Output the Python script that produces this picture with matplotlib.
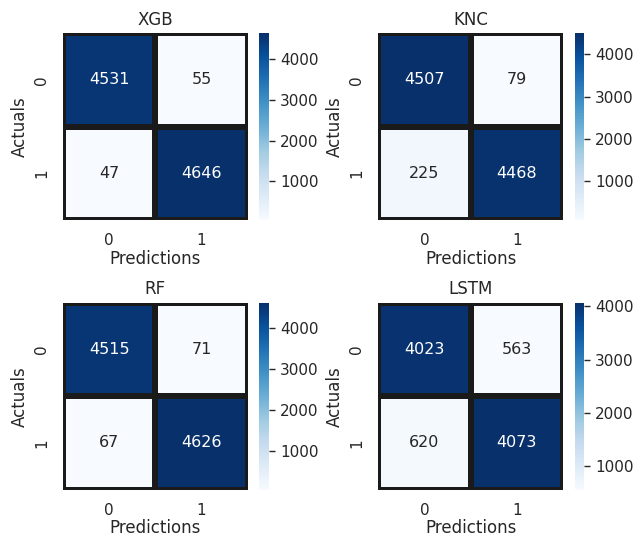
import matplotlib
matplotlib.use("Agg")
import matplotlib.pyplot as plt
import numpy as np
import seaborn as sns

# confusion matrices (rows: actuals, cols: predictions)
models = ['XGB', 'KNC', 'RF', 'LSTM']
cm_xgb = [[4531, 55], [47, 4646]]
cm_knc = [[4507, 79], [225, 4468]]
cm_rf = [[4515, 71], [67, 4626]]
cm_lstm = [[4023, 563], [620, 4073]]
matrices = [cm_xgb, cm_knc, cm_rf, cm_lstm]

sns.set_theme(style='white')

fig, axes = plt.subplots(2, 2, figsize=(6.36, 5.4), dpi=100)
fig.subplots_adjust(left=0.099, right=0.958, top=0.939, bottom=0.093,
                    wspace=0.364, hspace=0.44)
for ax, name, cm in zip(axes.flat, models, matrices):
    sns.heatmap(np.array(cm), annot=True, fmt='d', cmap='Blues',
                linewidths=4.3, linecolor='#1a1a1a', ax=ax,
                annot_kws={'size': 11.5})
    ax.set_title(name)
    ax.set_xlabel('Predictions', labelpad=1)
    ax.set_ylabel('Actuals')
    ax.tick_params(axis='y', pad=4)
    cbar = ax.collections[0].colorbar
    cbar.ax.tick_params(right=True, length=4.5, width=1, color='#262626')

plt.savefig('out.png', dpi=100)
